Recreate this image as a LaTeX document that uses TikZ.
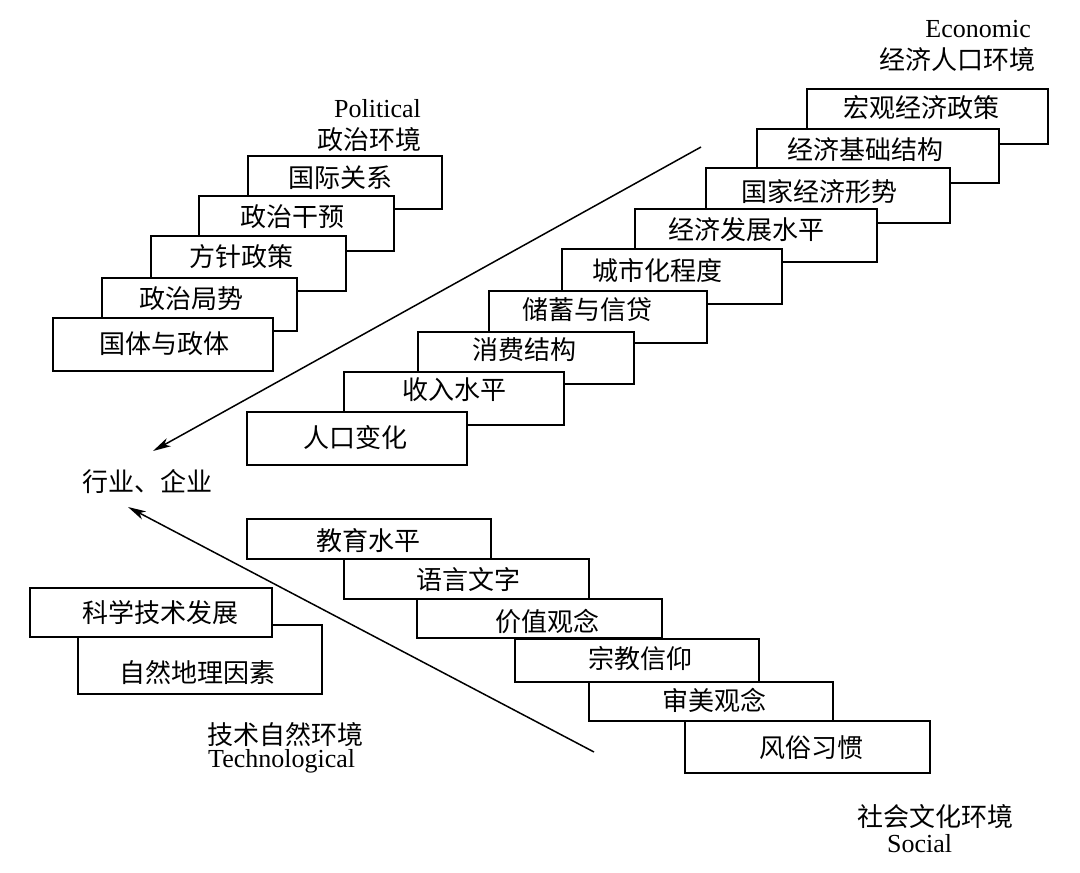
\documentclass[tikz,border=0pt]{standalone}
\usepackage{fontspec}
\setmainfont{Liberation Serif}
\newfontfamily\cjk{Noto Sans CJK SC}
\usetikzlibrary{arrows.meta,fit}
\begin{document}
\begin{tikzpicture}[x=1pt,y=-1pt,
  boxst/.style={draw, line width=1.8pt, fill=white, inner sep=0pt},
  cj/.style={font=\cjk\fontsize{26}{26}\selectfont, inner sep=0pt},
  la/.style={font=\fontsize{26}{26}\selectfont, inner sep=0pt},
  arr/.style={line width=1.5pt, -{Stealth[length=18pt,width=9pt,inset=5pt]}}]
\useasboundingbox[fill=white] (0,0) rectangle (1080,873);

% Political
\node[boxst, fit={(248,156)(442,209)}] (p1) {};
\node[cj] (p1t) at (340,178) {国际关系};
\node[boxst, fit={(199,196)(394,251)}] (p2) {};
\node[cj] (p2t) at (292,217) {政治干预};
\node[boxst, fit={(151,236)(346,291)}] (p3) {};
\node[cj] (p3t) at (241,257) {方针政策};
\node[boxst, fit={(102,278)(297,331)}] (p4) {};
\node[cj] (p4t) at (191,299) {政治局势};
\node[boxst, fit={(53,318)(273,371)}] (p5) {};
\node[cj] (p5t) at (164,344) {国体与政体};
\node[la, anchor=base east] (pl1) at (421,117) {Political};
\node[cj, anchor=east] (pl2) at (422,140) {政治环境};

% Economic
\node[boxst, fit={(807,89)(1048,144)}] (e1) {};
\node[cj] (e1t) at (921,108) {宏观经济政策};
\node[boxst, fit={(757,129)(999,183)}] (e2) {};
\node[cj] (e2t) at (865,150) {经济基础结构};
\node[boxst, fit={(706,168)(950,223)}] (e3) {};
\node[cj] (e3t) at (819,192) {国家经济形势};
\node[boxst, fit={(635,209)(877,262)}] (e4) {};
\node[cj] (e4t) at (746,230) {经济发展水平};
\node[boxst, fit={(562,249)(782,304)}] (e5) {};
\node[cj] (e5t) at (657,271) {城市化程度};
\node[boxst, fit={(489,291)(707,343)}] (e6) {};
\node[cj] (e6t) at (587,310) {储蓄与信贷};
\node[boxst, fit={(418,332)(634,384)}] (e7) {};
\node[cj] (e7t) at (524,350) {消费结构};
\node[boxst, fit={(344,372)(564,425)}] (e8) {};
\node[cj] (e8t) at (454,390) {收入水平};
\node[boxst, fit={(247,412)(467,465)}] (e9) {};
\node[cj] (e9t) at (355,438) {人口变化};
\node[la, anchor=base east] (el1) at (1031,37) {Economic};
\node[cj, anchor=east] (el2) at (1036,60) {经济人口环境};

% Social
\node[boxst, fit={(247,519)(491,559)}] (s1) {};
\node[cj] (s1t) at (368,541) {教育水平};
\node[boxst, fit={(344,559)(589,599)}] (s2) {};
\node[cj] (s2t) at (468,580) {语言文字};
\node[boxst, fit={(417,599)(662,638)}] (s3) {};
\node[cj] (s3t) at (547,621) {价值观念};
\node[boxst, fit={(515,639)(759,682)}] (s4) {};
\node[cj] (s4t) at (640,658) {宗教信仰};
\node[boxst, fit={(589,682)(833,721)}] (s5) {};
\node[cj] (s5t) at (714,700) {审美观念};
\node[boxst, fit={(685,721)(930,773)}] (s6) {};
\node[cj] (s6t) at (811,748) {风俗习惯};
\node[cj, anchor=west] (sl1) at (857,817) {社会文化环境};
\node[la, anchor=base west] (sl2) at (887,852) {Social};

% Technological
\node[boxst, fit={(78,625)(322,694)}] (t2) {};
\node[cj] (t2t) at (197,673) {自然地理因素};
\node[boxst, fit={(30,588)(272,637)}] (t1) {};
\node[cj] (t1t) at (160,613) {科学技术发展};
\node[cj, anchor=west] (tl1) at (207,735) {技术自然环境};
\node[la, anchor=base west] (tl2) at (208,767) {Technological};

% Centre
\node[cj] (ind) at (147,482) {行业、企业};

% Arrows
\coordinate (a1s) at (701,147);
\coordinate (a1e) at (153,451);
\draw[arr] (a1s) -- (a1e);
\coordinate (a2s) at (594,752);
\coordinate (a2e) at (128,507);
\draw[arr] (a2s) -- (a2e);
\end{tikzpicture}
\end{document}
